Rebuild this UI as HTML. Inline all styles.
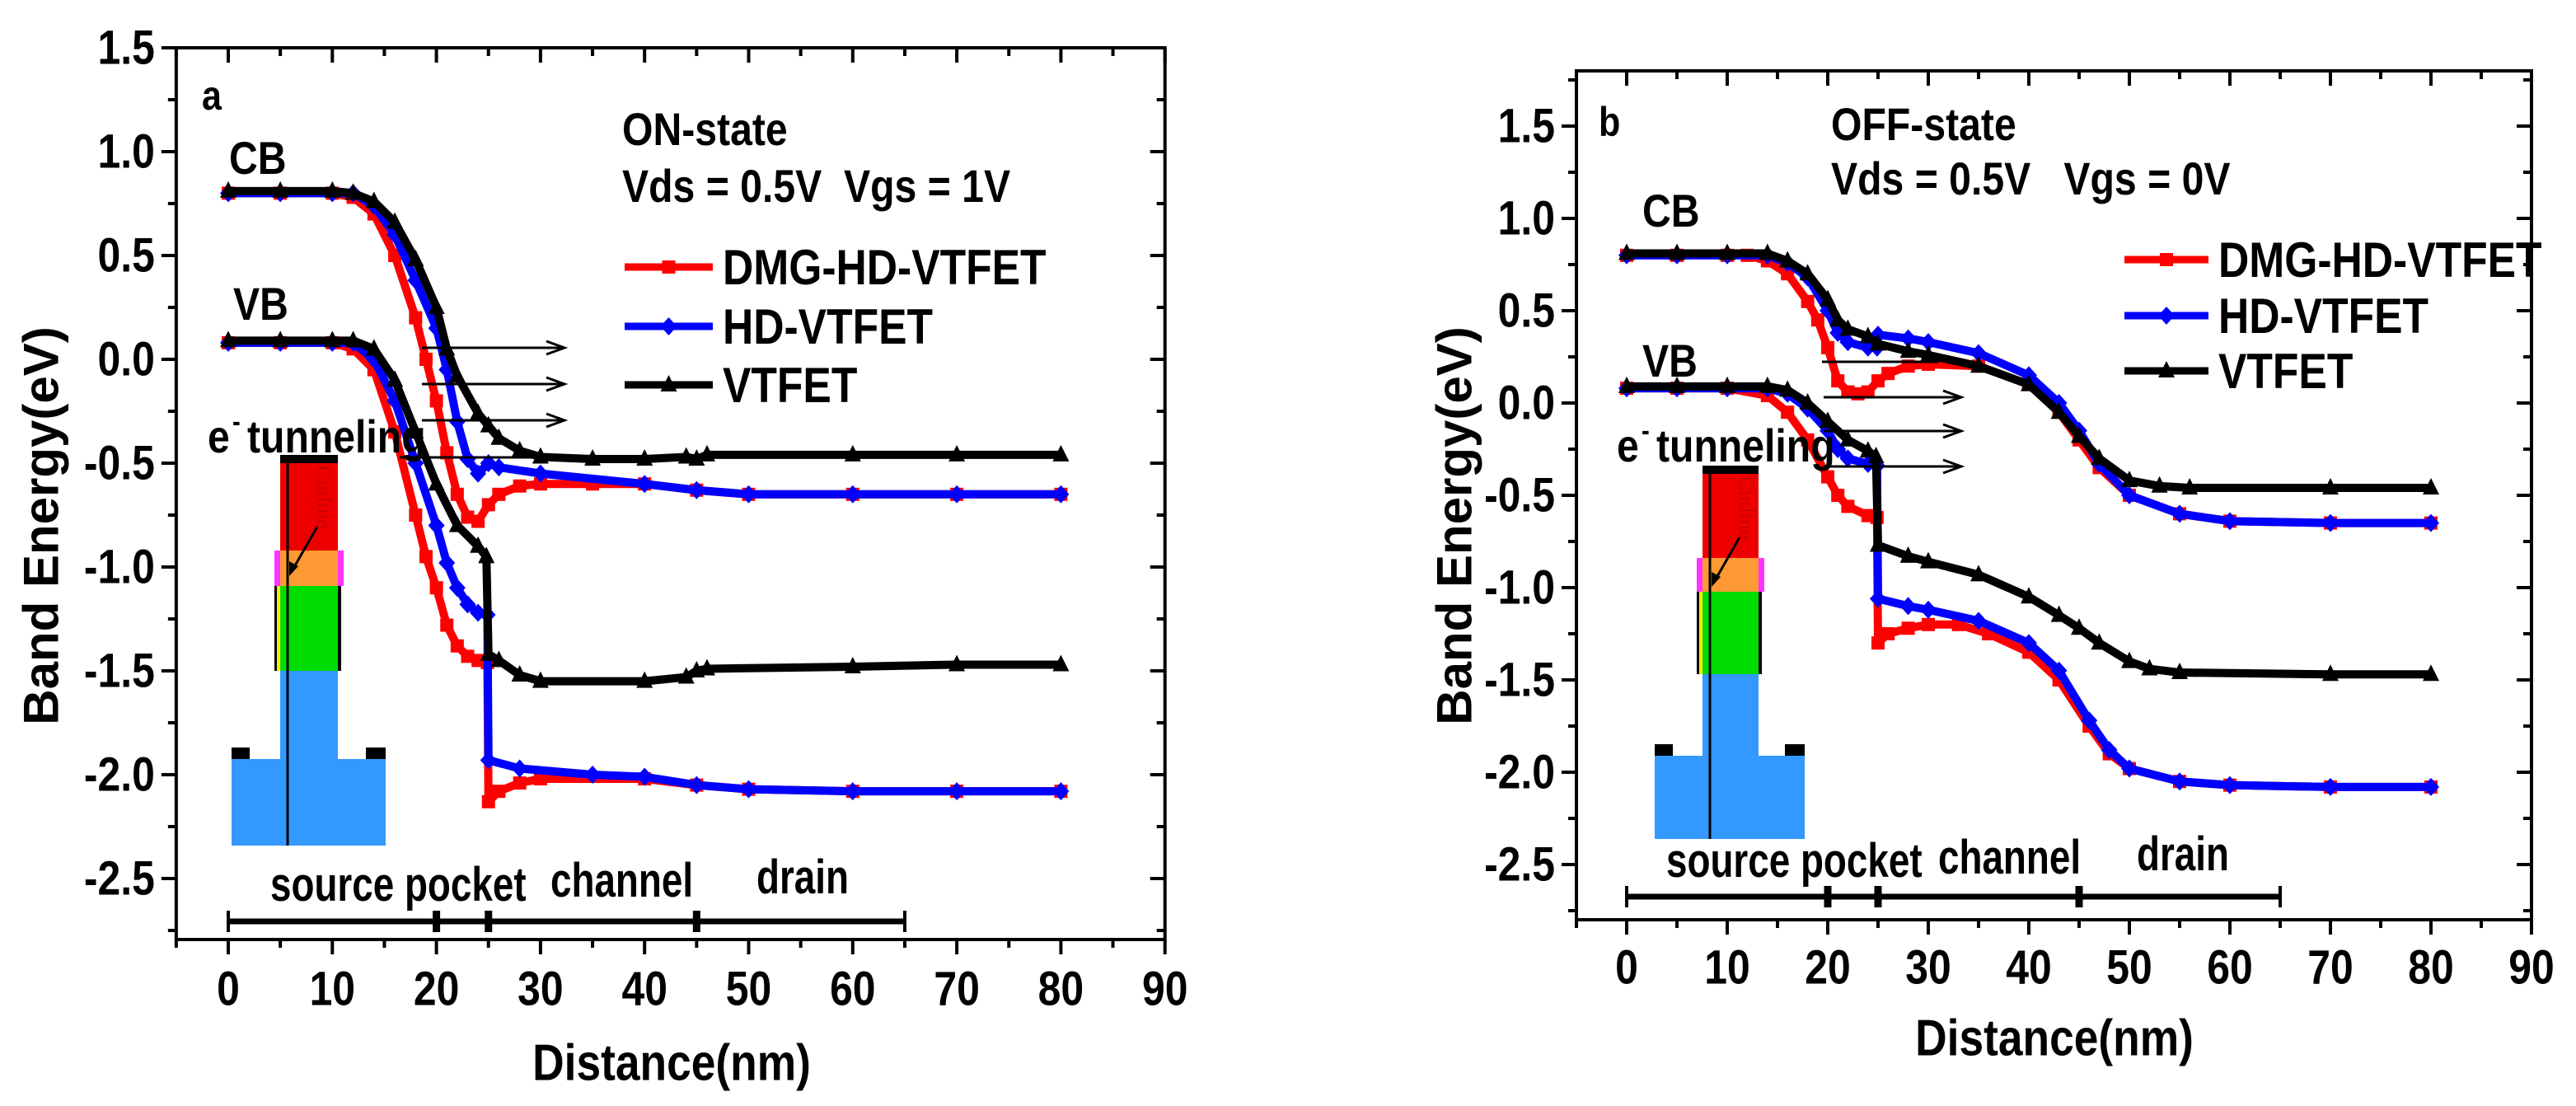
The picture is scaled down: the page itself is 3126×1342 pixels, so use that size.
<!DOCTYPE html>
<html><head><meta charset="utf-8"><style>
html,body{margin:0;padding:0;background:#fff}
svg{display:block}
text{font-family:"Liberation Sans",sans-serif;font-weight:bold}
</style></head><body>
<svg id="chart" width="3126" height="1342" viewBox="0 0 3126 1342" xmlns="http://www.w3.org/2000/svg"></svg>
<script>
// ---- Panel a data (ON-state) ----
const aCbDmgX=[0,5,10,12,14,16,18,19,20,21,22,23,24,25,26,28,30,35,40,45,50,60,70,80];
const aCbDmgY=[0.8,0.8,0.8,0.78,0.7,0.5,0.2,0.0,-0.2,-0.45,-0.65,-0.76,-0.78,-0.7,-0.65,-0.61,-0.6,-0.6,-0.6,-0.63,-0.65,-0.65,-0.65,-0.65];
const aCbHdX=[0,5,10,12,14,16,18,20,21,22,23,24,25,26,30,40,45,50,60,70,80];
const aCbHdY=[0.8,0.8,0.8,0.8,0.74,0.6,0.38,0.15,-0.05,-0.3,-0.48,-0.55,-0.5,-0.52,-0.55,-0.6,-0.63,-0.65,-0.65,-0.65,-0.65];
const aCbVtX=[0,5,10,12,14,16,18,20,21,22,24,25,26,28,30,35,40,44,45,46,60,70,80];
const aCbVtY=[0.81,0.81,0.81,0.8,0.76,0.66,0.48,0.25,0.05,-0.08,-0.26,-0.32,-0.38,-0.44,-0.47,-0.48,-0.48,-0.47,-0.48,-0.46,-0.46,-0.46,-0.46];
const aVbDmgX=[0,5,10,12,14,16,18,19,20,21,22,23,24,24.9,25,26,28,30,40,45,50,60,70,80];
const aVbDmgY=[0.08,0.08,0.08,0.05,-0.05,-0.35,-0.75,-0.95,-1.1,-1.28,-1.38,-1.43,-1.45,-1.46,-2.13,-2.08,-2.04,-2.02,-2.02,-2.05,-2.07,-2.08,-2.08,-2.08];
const aVbHdX=[0,5,10,12,14,16,18,20,21,22,23,24,24.9,25,28,35,40,45,50,60,70,80];
const aVbHdY=[0.08,0.08,0.08,0.08,0.0,-0.2,-0.5,-0.8,-0.98,-1.1,-1.18,-1.22,-1.23,-1.93,-1.97,-2.0,-2.01,-2.05,-2.07,-2.08,-2.08,-2.08];
const aVbVtX=[0,5,10,12,14,16,18,20,22,24,24.8,25,26,28,30,40,44,45,46,60,70,80];
const aVbVtY=[0.09,0.09,0.09,0.09,0.05,-0.1,-0.35,-0.6,-0.8,-0.9,-0.95,-1.42,-1.45,-1.52,-1.55,-1.55,-1.53,-1.5,-1.49,-1.48,-1.47,-1.47];
// ---- Panel b data (OFF-state) ----
const bCbDmgX=[0,5,10,12,14,16,18,19,20,21,22,23,24,25,26,28,30,35,40,43,45,47,50,55,60,70,80];
const bCbDmgY=[0.8,0.8,0.8,0.8,0.77,0.7,0.55,0.45,0.3,0.12,0.06,0.05,0.06,0.12,0.16,0.2,0.21,0.2,0.1,-0.05,-0.2,-0.35,-0.5,-0.6,-0.64,-0.65,-0.65];
const bCbHdX=[0,5,10,14,16,18,20,21,22,24,24.9,25,28,30,35,40,43,45,47,50,55,60,70,80];
const bCbHdY=[0.8,0.8,0.8,0.8,0.76,0.68,0.5,0.38,0.33,0.3,0.3,0.37,0.35,0.33,0.27,0.15,0.0,-0.15,-0.33,-0.5,-0.6,-0.64,-0.65,-0.65];
const bCbVtX=[0,5,10,14,16,18,20,21,22,24,25,28,30,35,40,43,45,47,50,53,56,70,80];
const bCbVtY=[0.81,0.81,0.81,0.81,0.77,0.7,0.56,0.45,0.4,0.36,0.32,0.28,0.26,0.2,0.1,-0.05,-0.18,-0.3,-0.42,-0.45,-0.46,-0.46,-0.46];
const bVbDmgX=[0,5,10,14,16,18,20,21,22,24,24.9,25,26,28,30,33,36,40,43,46,48,50,55,60,70,80];
const bVbDmgY=[0.08,0.08,0.08,0.04,-0.05,-0.2,-0.4,-0.5,-0.56,-0.61,-0.62,-1.3,-1.25,-1.22,-1.2,-1.2,-1.25,-1.35,-1.5,-1.75,-1.9,-1.98,-2.05,-2.07,-2.08,-2.08];
const bVbHdX=[0,5,10,14,16,18,20,21,22,24,24.9,25,28,30,35,40,43,46,48,50,55,60,70,80];
const bVbHdY=[0.08,0.08,0.08,0.08,0.05,-0.03,-0.15,-0.25,-0.3,-0.33,-0.34,-1.06,-1.1,-1.12,-1.18,-1.3,-1.45,-1.72,-1.88,-1.98,-2.05,-2.07,-2.08,-2.08];
const bVbVtX=[0,5,10,14,16,18,20,22,24,24.8,25,28,30,35,40,43,45,47,50,52,55,70,80];
const bVbVtY=[0.09,0.09,0.09,0.09,0.07,0.0,-0.1,-0.2,-0.26,-0.29,-0.77,-0.83,-0.86,-0.93,-1.05,-1.15,-1.22,-1.3,-1.4,-1.44,-1.46,-1.47,-1.47];
// ---- tick labels ----
const xTickVals=[0,10,20,30,40,50,60,70,80,90];
const aYTickVals=[1.5,1.0,0.5,0.0,-0.5,-1.0,-1.5,-2.0,-2.5];
const bYTickVals=[1.5,1.0,0.5,0.0,-0.5,-1.0,-1.5,-2.0,-2.5];
const legendNames=["DMG-HD-VTFET","HD-VTFET","VTFET"];
const regionBounds=[0,20,25,45,65];

const NS="http://www.w3.org/2000/svg";
const svg=document.getElementById('chart');
function mk(tag,attrs,parent){const e=document.createElementNS(NS,tag);for(const k in attrs)e.setAttribute(k,attrs[k]);(parent||svg).appendChild(e);return e;}
function txt(parent,x,y,s,size,opts){opts=opts||{};
  const g=mk('g',{transform:`translate(${x},${y}) scale(${opts.sx||0.86},1)`+(opts.rot?` rotate(${opts.rot})`:'')},parent);
  const t=mk('text',{x:0,y:0,'font-size':size,'text-anchor':opts.anchor||'start','dominant-baseline':'central',fill:opts.fill||'#000'},g);
  t.setAttribute('xml:space','preserve');t.style.whiteSpace='pre';
  t.textContent=s;return t;}

const colors=['#ff0000','#0000ff','#000000'];
function marker(g,type,x,y,c){
  if(type===0)return mk('rect',{x:x-8,y:y-8,width:16,height:16,fill:c},g);
  if(type===1)return mk('polygon',{points:`${x},${y-11} ${x+10},${y} ${x},${y+11} ${x-10},${y}`,fill:c},g);
  return mk('polygon',{points:`${x},${y-12} ${x+10},${y+8} ${x-10},${y+8}`,fill:c},g);
}

function panel(P){
  const G=mk('g',{},svg);
  
  
  const sx=v=>P.x0+(v)*P.px10/10;
  const sy=v=>P.y0-v*P.py05/0.5;
  const L=sx(-5),R=sx(90),T=P.top,B=P.bot;
  const D=P.dev,dg=mk('g',{},G);
  
  
  mk('rect',{x:D.bx0,y:D.ybase,width:D.bx1-D.bx0,height:D.ybot-D.ybase,fill:'#3399ff'},dg);
  mk('rect',{x:D.x0,y:D.ygb,width:D.x1-D.x0,height:D.ybase-D.ygb,fill:'#3399ff'},dg);
  mk('rect',{x:D.bx0,y:D.ybase-14,width:22,height:14,fill:'#000'},dg);
  mk('rect',{x:D.bx1-24,y:D.ybase-14,width:24,height:14,fill:'#000'},dg);
  mk('rect',{x:D.x0,y:D.yg,width:D.x1-D.x0,height:D.ygb-D.yg,fill:'#00dd00'},dg);
  mk('rect',{x:D.x0-7,y:D.yg,width:3,height:D.ygb-D.yg,fill:'#000'},dg);
  mk('rect',{x:D.x0-4,y:D.yg,width:4,height:D.ygb-D.yg,fill:'#ffee00'},dg);
  mk('rect',{x:D.x1,y:D.yg,width:4,height:D.ygb-D.yg,fill:'#000'},dg);
  mk('rect',{x:D.x0,y:D.yo,width:D.x1-D.x0,height:D.yg-D.yo,fill:'#ff9933'},dg);
  mk('rect',{x:D.x0-7,y:D.yo,width:7,height:D.yg-D.yo,fill:'#ff33ff'},dg);
  mk('rect',{x:D.x1,y:D.yo,width:7,height:D.yg-D.yo,fill:'#ff33ff'},dg);
  mk('rect',{x:D.x0,y:D.ytop,width:D.x1-D.x0,height:D.yo-D.ytop,fill:'#ee0000'},dg);
  mk('rect',{x:D.x0,y:D.ytop-5,width:D.x1-D.x0,height:10,fill:'#000'},dg);
  mk('line',{x1:D.cx,y1:D.ytop,x2:D.cx,y2:D.ybot,stroke:'#000','stroke-width':3},dg);
  mk('line',{x1:D.cx+36,y1:D.ytop+82,x2:D.cx+4,y2:D.ytop+138,stroke:'#000','stroke-width':3},dg);
  mk('polygon',{points:`${D.cx+2},${D.ytop+142} ${D.cx+2},${D.ytop+124} ${D.cx+13},${D.ytop+130}`,fill:'#000'},dg);
  const ct=mk('text',{x:0,y:0,'font-size':26,fill:'#cc0000',transform:`translate(${D.cx+36},${D.ytop+8}) rotate(90)`},dg);
  ct.style.fontFamily='"Liberation Serif",serif';ct.style.fontWeight='normal';ct.textContent='Cutline';

  const fr=mk('rect',{x:L,y:T,width:R-L,height:B-T,fill:'none',stroke:'#000','stroke-width':4},G);
  
  for(let v=-5;v<=90;v+=5){const X=sx(v),maj=v%10===0;
    mk('line',{x1:X,y1:B,x2:X,y2:B+(maj?18:10),stroke:'#000','stroke-width':4},G);
    mk('line',{x1:X,y1:T,x2:X,y2:T+(maj?18:10),stroke:'#000','stroke-width':4},G);}
  xTickVals.forEach(v=>{const t=txt(G,sx(v),P.xlabY,String(v),58,{anchor:'middle'});
    });
  for(let k=-11;k<=7;k++){const v=k*0.25,Y=sy(v);if(Y<T-1||Y>B+1)continue;const maj=k%2===0;
    mk('line',{x1:L,y1:Y,x2:L-(maj?18:10),y2:Y,stroke:'#000','stroke-width':4},G);
    mk('line',{x1:R,y1:Y,x2:R-(maj?18:10),y2:Y,stroke:'#000','stroke-width':4},G);}
  P.yt.forEach(v=>{const t=txt(G,L-26,sy(v),v.toFixed(1),58,{anchor:'end'});
    });
  const yt=txt(G,P.ytx,P.yty,'Band Energy(eV)',60,{anchor:'middle',rot:-90,sx:1});
  
  const xt=txt(G,P.xtx,P.xty,'Distance(nm)',62,{anchor:'middle'});
  
  P.series.forEach((s,i)=>{
    const sg=mk('g',{},G);
    
    
    const pts=s.x.map((xv,j)=>`${sx(xv)},${sy(s.y[j])}`).join(' ');
    mk('polyline',{points:pts,fill:'none',stroke:colors[s.c],'stroke-width':10,'stroke-linejoin':'round'},sg);
    s.x.forEach((xv,j)=>marker(sg,s.c,sx(xv),sy(s.y[j]),colors[s.c]));
  });
  P.arrows.forEach(a=>{const ag=mk('g',{},G);
    
    mk('line',{x1:a[0],y1:a[2],x2:a[1]-4,y2:a[2],stroke:'#000','stroke-width':3},ag);
    mk('path',{d:`M${a[1]-22},${a[2]-8} L${a[1]},${a[2]} L${a[1]-22},${a[2]+8}`,fill:'none',stroke:'#000','stroke-width':3},ag);});
  mk('line',{x1:P.tl[0],y1:P.tl[2],x2:P.tl[1],y2:P.tl[2],stroke:'#000','stroke-width':3},G);
  const rg=mk('g',{},G);
  
  mk('line',{x1:sx(regionBounds[0]),y1:P.barY,x2:sx(regionBounds[4]),y2:P.barY,stroke:'#000','stroke-width':7},rg);
  regionBounds.forEach((v,k)=>{const X=sx(v);const w=(k===0||k===4)?4:9;
    mk('rect',{x:X-w/2,y:P.barY-13,width:w,height:26,fill:'#000'},rg);});
  P.labels.forEach(l=>{const t=txt(G,l[0],l[1],l[2],l[3],{anchor:l[4]||'start',sx:l[6]});
    });
  legendNames.forEach((n,i)=>{const lg=mk('g',{},G);
    
    const Y=P.legY[i];
    mk('line',{x1:P.legX,y1:Y,x2:P.legX+P.legW,y2:Y,stroke:colors[i],'stroke-width':9},lg);
    marker(lg,i,P.legX+P.legW/2,Y,colors[i]);
    txt(lg,P.legX+P.legW+12,Y,n,60);});
  txt(G,P.et[0],P.et[1],'e',56);
  txt(G,P.et[0]+30,P.et[1]-20,'-',34);
  txt(G,P.et[0]+48,P.et[1],'tunneling',56);
}

panel({name:'panel-a-on-state',x0:277,px10:126.3,y0:436,py05:126,top:58,bot:1140,
  yt:aYTickVals,xlabY:1200,ytx:50,yty:638,xtx:815,xty:1290,
  dev:{x0:340,x1:410,bx0:281,bx1:468,ytop:557,yo:668,yg:711,ygb:814,ybase:921,ybot:1026,cx:349},
  series:[{name:'series-cb-dmg-hd-vtfet',x:aCbDmgX,y:aCbDmgY,c:0},{name:'series-cb-hd-vtfet',x:aCbHdX,y:aCbHdY,c:1},{name:'series-cb-vtfet',x:aCbVtX,y:aCbVtY,c:2},
          {name:'series-vb-dmg-hd-vtfet',x:aVbDmgX,y:aVbDmgY,c:0},{name:'series-vb-hd-vtfet',x:aVbHdX,y:aVbHdY,c:1},{name:'series-vb-vtfet',x:aVbVtX,y:aVbVtY,c:2}],
  arrows:[[512,685,422],[512,685,466],[512,685,510]],tl:[485,690,555],
  barY:1118,legX:758,legW:107,legY:[324,396,467],et:[252,531],
  labels:[[245,116,'a',50,'start','panel-label'],[755,158,'ON-state',56,'start','state-title'],[755,227,'Vds = 0.5V  Vgs = 1V',56,'start','bias-title'],
    [278,193,'CB',56,'start','cb-label'],[283,370,'VB',56,'start','vb-label'],
    [328,1074,'source pocket',58,'start','source-pocket-label',0.79],[668,1069,'channel',58,'start','channel-label',0.79],[918,1065,'drain',58,'start','drain-label',0.79]]
});
panel({name:'panel-b-off-state',x0:1974,px10:122,y0:489,py05:112,top:86,bot:1116,
  yt:bYTickVals,xlabY:1174,ytx:1765,yty:638,xtx:2493,xty:1260,
  dev:{x0:2066,x1:2134,bx0:2008,bx1:2190,ytop:570,yo:677,yg:718,ygb:818,ybase:917,ybot:1018,cx:2075},
  series:[{name:'series-cb-dmg-hd-vtfet',x:bCbDmgX,y:bCbDmgY,c:0},{name:'series-cb-hd-vtfet',x:bCbHdX,y:bCbHdY,c:1},{name:'series-cb-vtfet',x:bCbVtX,y:bCbVtY,c:2},
          {name:'series-vb-dmg-hd-vtfet',x:bVbDmgX,y:bVbDmgY,c:0},{name:'series-vb-hd-vtfet',x:bVbHdX,y:bVbHdY,c:1},{name:'series-vb-vtfet',x:bVbVtX,y:bVbVtY,c:2}],
  arrows:[[2213,2380,482],[2213,2380,523],[2213,2380,566]],tl:[2211,2353,439],
  barY:1088,legX:2578,legW:102,legY:[315,383,450],et:[1962,542],
  labels:[[1940,148,'b',50,'start','panel-label'],[2222,152,'OFF-state',56,'start','state-title'],[2222,218,'Vds = 0.5V   Vgs = 0V',56,'start','bias-title'],
    [1993,257,'CB',56,'start','cb-label'],[1993,439,'VB',56,'start','vb-label'],
    [2022,1045,'source pocket',58,'start','source-pocket-label',0.79],[2352,1041,'channel',58,'start','channel-label',0.79],[2593,1037,'drain',58,'start','drain-label',0.79]]
});
</script>
</body></html>
